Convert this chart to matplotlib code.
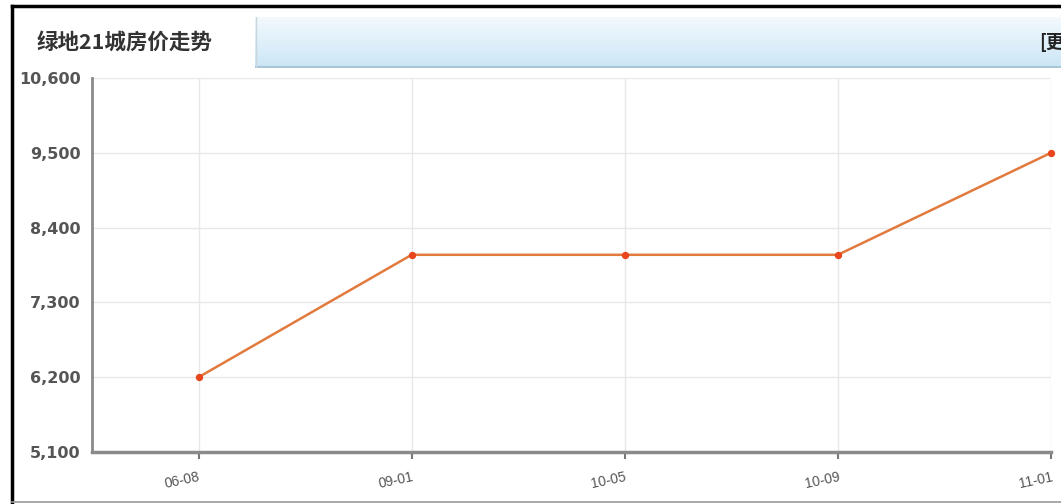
import numpy as np
import matplotlib.pyplot as plt
from matplotlib.colors import LinearSegmentedColormap
from matplotlib.lines import Line2D
from matplotlib.transforms import ScaledTranslation

plt.rcParams['font.family'] = ['Noto Sans CJK SC', 'DejaVu Sans']

title = '绿地21城房价走势'
dates = ['06-08', '09-01', '10-05', '10-09', '11-01']
prices = [6200, 8000, 8000, 8000, 9500]
y_ticks = [5100, 6200, 7300, 8400, 9500, 10600]

W, H = 1061, 504
fig = plt.figure(figsize=(W / 100, H / 100), dpi=100)
fig.patch.set_facecolor('white')

# blue header bar with gradient
hb = fig.add_axes([255 / W, (H - 68) / H, (W - 255) / W, 51 / H])
grad = np.linspace(0, 1, 50).reshape(-1, 1)
hb.imshow(grad, aspect='auto', extent=(0, 1, 0, 1),
          cmap=LinearSegmentedColormap.from_list('hdr', ['#f3f9fd', '#cbe6f6']))
hb.set_xlim(0, 1)
hb.set_ylim(0, 1)
hb.axis('off')
hb.add_line(Line2D([0, 1], [0.01, 0.01], color='#a9c6d6', lw=1.5))
hb.add_line(Line2D([0.0008, 0.0008], [0, 1], color='#c8d6de', lw=1))

fig.text(37 / W, 1 - 42 / H, title, fontsize=15.5, fontweight='bold', color='#333333',
         va='center', ha='left')
fig.text(1039 / W, 1 - 42 / H, '[更多]', fontsize=13, fontweight='bold', color='#222222',
         va='center', ha='left')

# outer frame
fig.add_artist(Line2D([12 / W, 1], [1 - 6 / H, 1 - 6 / H], color='black', lw=2.5))
fig.add_artist(Line2D([12 / W, 12 / W], [0, 1 - 6 / H], color='black', lw=2.5))
fig.add_artist(Line2D([12 / W, 1], [2 / H, 2 / H], color='#999999', lw=1.2))

ax = fig.add_axes([92 / W, (H - 452) / H, (1051 - 92) / W, (452 - 78) / H])
x = np.arange(len(dates))
ax.plot(x, prices, color='#e27a3e', lw=1.8, zorder=3, clip_on=False)
ax.scatter(x, prices, s=28, color='#e8461c', zorder=4, clip_on=False, linewidths=0)

ax.set_xlim(-0.5, len(dates) - 1)
ax.set_ylim(y_ticks[0], y_ticks[-1])
ax.set_xticks(x)
ax.set_xticklabels(dates, rotation=12, fontsize=10, color='#555555', family='Liberation Sans',
                   ha='right', rotation_mode='anchor')
ax.set_yticks(y_ticks)
ax.set_yticklabels(['{:,}'.format(v) for v in y_ticks], fontsize=11.5, fontweight='bold',
                   color='#555555', family='DejaVu Sans')
# labels sit a little below their grid line
for lab in ax.get_yticklabels():
    lab.set_transform(lab.get_transform() + ScaledTranslation(0, -3 / 72, fig.dpi_scale_trans))

ax.grid(True, color='#e8e8e8', lw=1)
ax.set_axisbelow(True)
ax.tick_params(axis='y', length=0, pad=8)
ax.tick_params(axis='x', length=5, width=1.5, color='#777777', pad=8)
ax.spines['top'].set_visible(False)
ax.spines['right'].set_visible(False)
ax.spines['left'].set_color('#8a8a8a')
ax.spines['left'].set_linewidth(2)
ax.spines['bottom'].set_color('#8a8a8a')
ax.spines['bottom'].set_linewidth(2.5)

fig.savefig('out.png', dpi=100)
